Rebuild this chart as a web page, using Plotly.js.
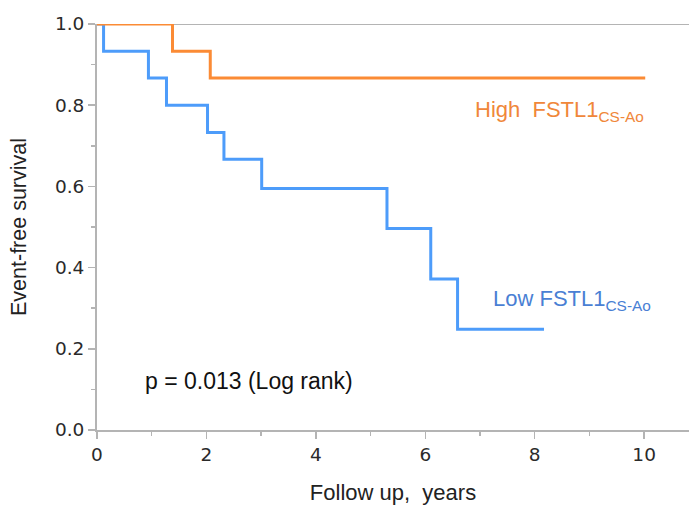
<!DOCTYPE html>
<html><head><meta charset="utf-8">
<script src="https://cdn.plot.ly/plotly-3.0.1.min.js"></script>
<style>html,body{margin:0;padding:0;background:#fff}</style>
</head><body><div id="chart" style="width:689px;height:507px"></div>
<script>
// Kaplan-Meier step data (time in years, survival probability)
const lowTimes = [0, 0.12, 0.94, 1.27, 2.02, 2.32, 3.01, 5.30, 6.10, 6.59, 8.17];
const lowSurv  = [1.0, 0.933, 0.867, 0.800, 0.733, 0.667, 0.595, 0.496, 0.372, 0.248, 0.248];
const highTimes = [0, 1.38, 2.07, 10.02];
const highSurv  = [1.0, 0.933, 0.867, 0.867];
const xTicks = [0, 2, 4, 6, 8, 10];
const yTicks = [0.0, 0.2, 0.4, 0.6, 0.8, 1.0];

const blue = '#4d9cfa', orange = '#fb8b35';
const traces = [
  {x: lowTimes, y: lowSurv, mode: 'lines', line: {shape: 'hv', color: blue, width: 3}, hoverinfo: 'skip'},
  {x: highTimes, y: highSurv, mode: 'lines', line: {shape: 'hv', color: orange, width: 3}, hoverinfo: 'skip'}
];
const axisCol = '#b4b4b4';
const layout = {
  width: 689, height: 507,
  margin: {l: 97, r: 0, t: 24, b: 77},
  showlegend: false,
  paper_bgcolor: '#fff', plot_bgcolor: '#fff',
  font: {family: 'Liberation Sans, Arial, sans-serif', color: '#222'},
  xaxis: {
    range: [0, 10.82], tickvals: xTicks, ticktext: xTicks.map(String),
    ticks: 'outside', ticklen: 7, tickwidth: 1.5, tickcolor: axisCol,
    showline: true, linecolor: axisCol, linewidth: 2, mirror: false,
    showgrid: false, zeroline: false,
    minor: {dtick: 1, ticks: 'outside', ticklen: 4, tickcolor: axisCol, tickwidth: 1.5},
    tickfont: {family: 'DejaVu Sans', size: 18.5, color: '#2a2a2a'},
    title: {text: 'Follow up,  years', font: {size: 22, color: '#222'}, standoff: 20}
  },
  yaxis: {
    range: [0, 1.0], tickvals: yTicks, ticktext: yTicks.map(v => v.toFixed(1)),
    ticks: 'outside', ticklen: 7, tickwidth: 1.5, tickcolor: axisCol,
    showline: true, linecolor: axisCol, linewidth: 2,
    showgrid: false, zeroline: false,
    minor: {dtick: 0.1, ticks: 'outside', ticklen: 4, tickcolor: axisCol, tickwidth: 1.5},
    tickfont: {family: 'DejaVu Sans', size: 18.5, color: '#2a2a2a'},
    title: {text: 'Event-free survival', font: {size: 21.5, color: '#222'}, standoff: 22}
  },
  shapes: [
    {type: 'line', xref: 'paper', yref: 'y', x0: 0, x1: 1, y0: 1, y1: 1, line: {color: axisCol, width: 2}, layer: 'below'}
  ],
  annotations: [
    {x: 0.84, y: 0.12, xref: 'x', yref: 'y', xanchor: 'left', yanchor: 'middle', showarrow: false,
     text: 'p = 0.013 (Log rank)', font: {size: 23, color: '#111'}},
    {x: 6.87, y: 0.785, xref: 'x', yref: 'y', xanchor: 'left', yanchor: 'middle', showarrow: false,
     text: 'High  FSTL1<sub>CS-Ao</sub>', font: {size: 22, color: '#f0873a'}},
    {x: 7.2, y: 0.32, xref: 'x', yref: 'y', xanchor: 'left', yanchor: 'middle', showarrow: false,
     text: 'Low FSTL1<sub>CS-Ao</sub>', font: {size: 22, color: '#4a7fd4'}}
  ]
};
Plotly.newPlot('chart', traces, layout, {displayModeBar: false, staticPlot: true});
</script></body></html>
